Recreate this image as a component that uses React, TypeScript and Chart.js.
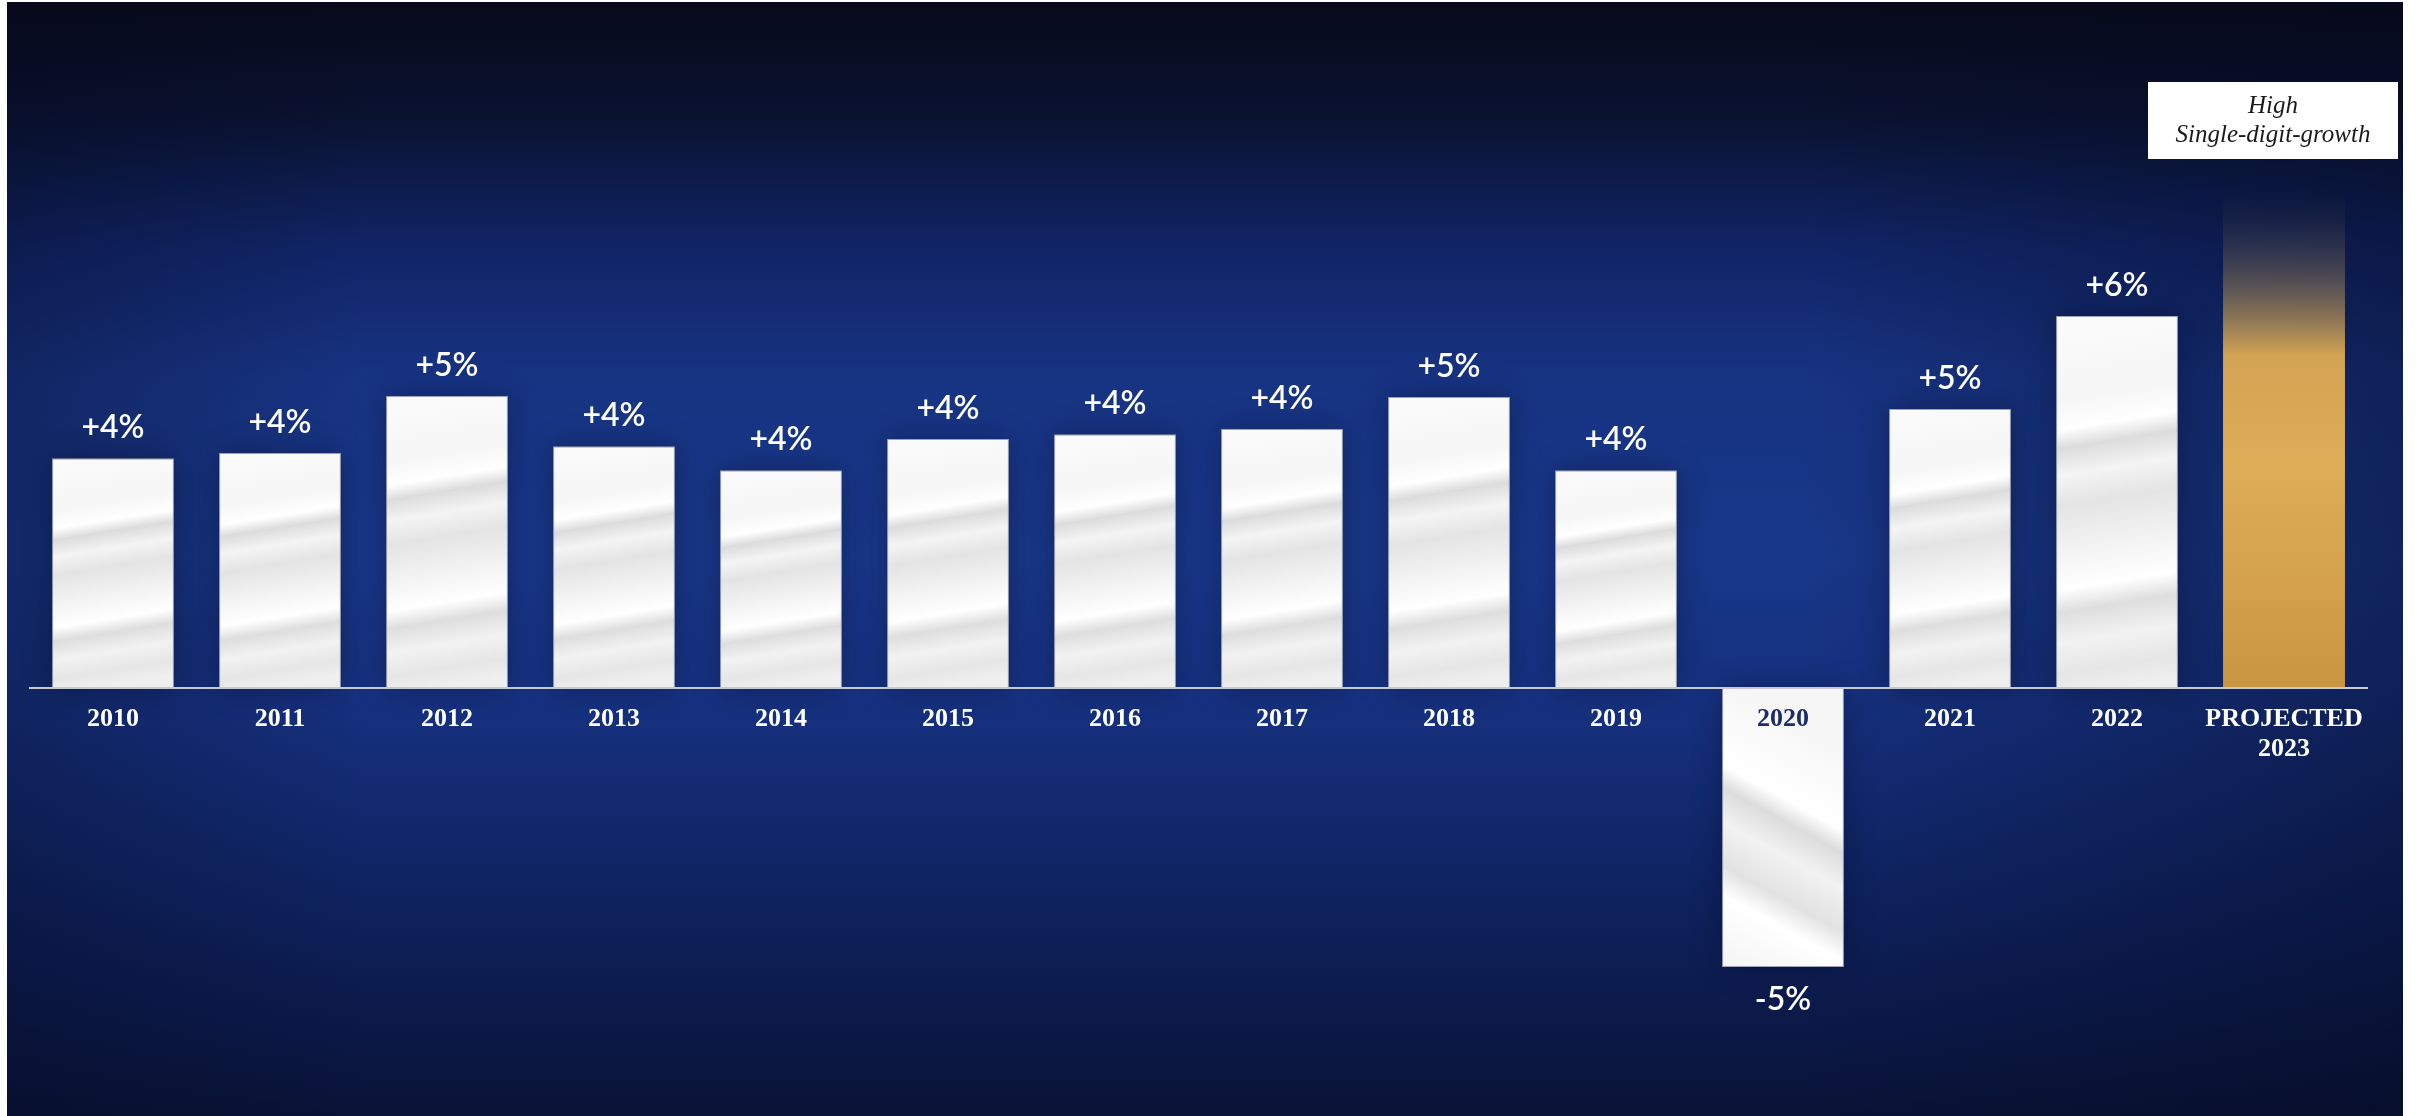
import React, { useEffect, useRef } from "react";
import { Chart, registerables } from "chart.js";

Chart.register(...registerables);

const categories: (string | string[])[] = [
  "2010", "2011", "2012", "2013", "2014", "2015", "2016",
  "2017", "2018", "2019", "2020", "2021", "2022", ["PROJECTED", "2023"],
];
const growth = [3.83, 3.92, 4.87, 4.03, 3.63, 4.15, 4.23, 4.32, 4.85, 3.63, -4.65, 4.65, 6.2, 8.3];
const valueLabels = ["+4%", "+4%", "+5%", "+4%", "+4%", "+4%", "+4%", "+4%", "+5%", "+4%", "-5%", "+5%", "+6%", ""];
const projectionNote = ["High", "Single-digit-growth"];
const projectedIndex = 13;
const highlightedTickIndex = 10;

const W = 2396;
const H = 1114;

function barGeom(chart: any, i: number) {
  const xs = chart.scales.x;
  const ys = chart.scales.y;
  const x = xs.getPixelForValue(i);
  const y = ys.getPixelForValue(growth[i]);
  const base = ys.getPixelForValue(0);
  const w = (xs.width / categories.length) * 0.73;
  return { x, y, base, w, left: x - w / 2, top: Math.min(y, base), bottom: Math.max(y, base) };
}

function geomOk(b: any) {
  return [b.x, b.y, b.base, b.w].every((v) => typeof v === "number" && isFinite(v)) && b.w > 0;
}

const backgroundPlugin = {
  id: "bgTexture",
  beforeDraw(chart: any) {
    const ctx = chart.ctx;
    const w = chart.width;
    const h = chart.height;
    ctx.save();
    const g = ctx.createLinearGradient(0, 0, 0, h);
    g.addColorStop(0, "#070a1a");
    g.addColorStop(0.1, "#0a1230");
    g.addColorStop(0.22, "#11266a");
    g.addColorStop(0.34, "#183688");
    g.addColorStop(0.5, "#1a3a8e");
    g.addColorStop(0.64, "#163283");
    g.addColorStop(0.8, "#0f2463");
    g.addColorStop(1, "#0a1338");
    ctx.fillStyle = g;
    ctx.fillRect(0, 0, w, h);
    const side = ctx.createLinearGradient(0, 0, w, 0);
    side.addColorStop(0, "rgba(4,8,30,0.35)");
    side.addColorStop(0.15, "rgba(4,8,30,0.05)");
    side.addColorStop(0.75, "rgba(4,8,30,0.05)");
    side.addColorStop(1, "rgba(4,8,30,0.45)");
    ctx.fillStyle = side;
    ctx.fillRect(0, 0, w, h);
    ctx.restore();
  },
  beforeDatasetsDraw(chart: any) {
    const ctx = chart.ctx;
    ctx.save();
    for (let i = 0; i < growth.length; i++) {
      if (i === projectedIndex) continue;
      const b = barGeom(chart, i);
      if (!geomOk(b)) continue;
      ctx.shadowColor = "rgba(2,6,25,0.55)";
      ctx.shadowBlur = 28;
      ctx.fillStyle = "rgba(10,20,60,0.6)";
      ctx.fillRect(b.left, b.top, b.w, b.bottom - b.top);
    }
    ctx.restore();
  },
};

const labelsPlugin = {
  id: "valueLabels",
  afterDatasetsDraw(chart: any) {
    const ctx = chart.ctx;
    ctx.save();
    ctx.font = '600 32px "Lato"';
    ctx.fillStyle = "#ffffff";
    ctx.textAlign = "center";
    for (let i = 0; i < growth.length; i++) {
      const txt = valueLabels[i];
      if (!txt) continue;
      const b = barGeom(chart, i);
      if (!geomOk(b)) continue;
      if (growth[i] >= 0) {
        ctx.textBaseline = "alphabetic";
        ctx.fillText(txt, b.x, b.y - 20);
      } else {
        ctx.textBaseline = "top";
        ctx.fillText(txt, b.x, b.y + 17);
      }
    }
    const p = barGeom(chart, projectedIndex);
    if (geomOk(p)) {
      const bw = 250;
      const bh = 77;
      const cx = p.x - 11;
      ctx.fillStyle = "#ffffff";
      ctx.fillRect(cx - bw / 2, 80, bw, bh);
      ctx.fillStyle = "#1a1a1a";
      ctx.font = 'italic 25px "Liberation Serif"';
      ctx.textBaseline = "alphabetic";
      ctx.fillText(projectionNote[0], cx, 111);
      ctx.fillText(projectionNote[1], cx, 140);
    }
    ctx.restore();
  },
};

function barFill(context: any) {
  const chart = context.chart;
  if (context.type !== "data" || !chart.scales || !chart.scales.x || !chart.scales.y) return "#f4f4f4";
  const i = context.dataIndex;
  const b = barGeom(chart, i);
  if (!geomOk(b)) return i === projectedIndex ? "#d4a452" : "#f4f4f4";
  const ctx = chart.ctx;
  const h = b.bottom - b.top;
  if (!(h > 0)) return "#f4f4f4";
  if (i === projectedIndex) {
    const g = ctx.createLinearGradient(0, b.top, 0, b.bottom);
    g.addColorStop(0, "rgba(40,42,60,0)");
    g.addColorStop(0.1, "rgba(70,68,75,0.45)");
    g.addColorStop(0.2, "rgba(120,105,85,0.75)");
    g.addColorStop(0.33, "#d2a353");
    g.addColorStop(0.55, "#ddad58");
    g.addColorStop(0.8, "#d4a04b");
    g.addColorStop(1, "#c99540");
    return g;
  }
  if (growth[i] < 0) {
    const g = ctx.createLinearGradient(b.left, b.bottom, b.left + b.w, b.top + h * 0.2);
    g.addColorStop(0, "#f4f4f4");
    g.addColorStop(0.25, "#ffffff");
    g.addColorStop(0.35, "#e2e2e2");
    g.addColorStop(0.5, "#f2f2f2");
    g.addColorStop(0.62, "#dcdcdc");
    g.addColorStop(0.7, "#ffffff");
    g.addColorStop(1, "#f6f6f6");
    return g;
  }
  const g = ctx.createLinearGradient(b.left, b.top, b.left + 0.16 * h, b.bottom);
  g.addColorStop(0, "#fbfbfb");
  g.addColorStop(0.22, "#f6f6f6");
  g.addColorStop(0.3, "#ffffff");
  g.addColorStop(0.35, "#dcdcdc");
  g.addColorStop(0.42, "#f4f4f4");
  g.addColorStop(0.5, "#e4e4e4");
  g.addColorStop(0.62, "#f3f3f3");
  g.addColorStop(0.72, "#ffffff");
  g.addColorStop(0.78, "#dedede");
  g.addColorStop(0.86, "#f2f2f2");
  g.addColorStop(0.94, "#e6e6e6");
  g.addColorStop(1, "#efefef");
  return g;
}

export default function App() {
  const canvasRef = useRef<HTMLCanvasElement | null>(null);

  useEffect(() => {
    let chart: Chart | null = null;
    let cancelled = false;
    const fontsReady = Promise.all([
      document.fonts.load('600 32px "Lato"'),
      document.fonts.load('bold 26px "Liberation Serif"'),
      document.fonts.load('italic 25px "Liberation Serif"'),
    ]).catch(() => null);
    fontsReady.then(() => {
      if (cancelled || !canvasRef.current) return;
      chart = new Chart(canvasRef.current, {
        type: "bar",
        data: {
          labels: categories as any,
          datasets: [
            {
              data: growth,
              backgroundColor: barFill as any,
              borderColor: (c: any) => (c.dataIndex === projectedIndex ? "rgba(0,0,0,0)" : "#9ea3b4"),
              borderWidth: (c: any) => (c.dataIndex === projectedIndex ? 0 : 1),
              borderSkipped: false,
              barPercentage: 0.73,
              categoryPercentage: 1,
            },
          ],
        },
        options: {
          animation: false,
          responsive: false,
          maintainAspectRatio: false,
          devicePixelRatio: 1,
          layout: { padding: { top: 86, bottom: 8, left: 22.5, right: 35.5 } },
          plugins: {
            legend: { display: false },
            tooltip: { enabled: false },
            title: { display: false },
          },
          scales: {
            y: {
              display: false,
              min: -7,
              max: 10,
            },
            x: {
              position: { y: 0 } as any,
              z: 1,
              grid: { display: false, drawTicks: false },
              border: { display: true, color: "#c6c8d2", width: 2, z: 1 } as any,
              ticks: {
                z: 1,
                padding: 16,
                maxRotation: 0,
                autoSkip: false,
                color: (c: any) => (c.index === highlightedTickIndex ? "#1b2c68" : "#ffffff"),
                font: { family: '"Liberation Serif"', size: 26, weight: "bold", lineHeight: 1.15 },
              } as any,
            },
          },
        },
        plugins: [backgroundPlugin, labelsPlugin],
      });
    });
    return () => {
      cancelled = true;
      if (chart) chart.destroy();
    };
  }, []);

  return (
    <div style={{ position: "absolute", left: 7, top: 2, width: W, height: H }}>
      <canvas ref={canvasRef} width={W} height={H} style={{ width: W, height: H, display: "block" }} />
    </div>
  );
}
